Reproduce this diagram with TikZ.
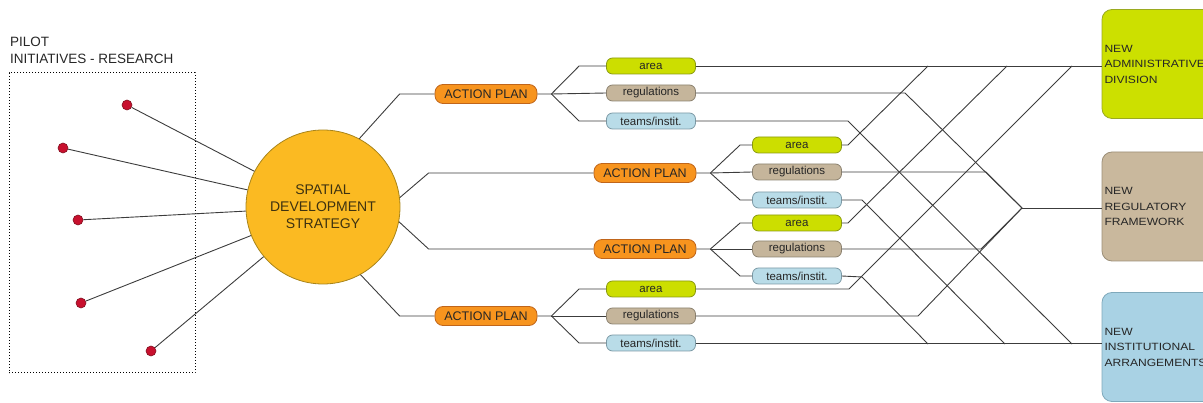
\documentclass[tikz,border=0pt]{standalone}
\usepackage{fontspec}
\setmainfont{Liberation Sans}
\newfontfamily\widefont{Liberation Sans}[FakeStretch=1.15]
\definecolor{lncol}{HTML}{3C3C3C}
\definecolor{txt}{HTML}{262626}
\definecolor{apf}{HTML}{F7941E}
\definecolor{apb}{HTML}{C0651A}
\definecolor{arf}{HTML}{CCDE00}
\definecolor{arb}{HTML}{8A9A10}
\definecolor{rgf}{HTML}{C5B59B}
\definecolor{rgb}{HTML}{8C8270}
\definecolor{tmf}{HTML}{B9DCE8}
\definecolor{tmb}{HTML}{7C9AA6}
\definecolor{admf}{HTML}{CCE000}
\definecolor{admb}{HTML}{9AAA20}
\definecolor{regf}{HTML}{C9B89D}
\definecolor{regb}{HTML}{9C8F78}
\definecolor{insf}{HTML}{A9D2E4}
\definecolor{insb}{HTML}{7FA9BB}
\definecolor{cirf}{HTML}{FBBA22}
\definecolor{cirb}{HTML}{A8841A}
\definecolor{dotf}{HTML}{C8102E}
\definecolor{dotb}{HTML}{801020}
\definecolor{ctxt}{HTML}{3E3210}
\begin{document}
\begin{tikzpicture}[x=1pt,y=-1pt,
  ln/.style={draw=lncol,line width=0.9pt},
  pdot/.style={circle,minimum size=10pt,inner sep=0pt,fill=dotf,draw=dotb,line width=0.6pt},
  apbox/.style={rectangle,rounded corners=8pt,draw=apb,fill=apf,line width=0.8pt,minimum width=102pt,minimum height=19pt,inner sep=0pt,font=\fontsize{12.5}{14}\selectfont,text=txt},
  sbox/.style={rectangle,rounded corners=6pt,line width=0.8pt,minimum width=89pt,minimum height=16pt,inner sep=0pt,font=\fontsize{11.5}{13}\selectfont,text=txt},
  sarea/.style={sbox,draw=arb,fill=arf},
  sreg/.style={sbox,draw=rgb,fill=rgf},
  steam/.style={sbox,draw=tmb,fill=tmf},
  bigbox/.style={rectangle,rounded corners=10pt,line width=0.8pt,minimum width=115pt,minimum height=109pt,inner xsep=1pt,text width=110pt,align=left,font=\widefont\fontsize{10.5}{15.5}\selectfont,text=txt},
  title/.style={anchor=base west,inner sep=0pt,font=\fontsize{13.5}{16}\selectfont,text=txt}
]
\useasboundingbox (0,0) rectangle (1203,403);
\clip (0,0) rectangle (1203,403);

% title and dotted frame
\node[title] (t1) at (10,47) {PILOT};
\node[title] (t2) at (10,64) {INITIATIVES - RESEARCH};
\node[draw=black,dotted,line width=1pt,minimum width=186pt,minimum height=300pt,inner sep=0pt] (frame) at (102,223) {};

% central circle
\node[circle,minimum size=154pt,inner sep=0pt,fill=cirf,draw=cirb,line width=0.8pt,align=center,font=\fontsize{14}{17}\selectfont,text=ctxt] (c) at (323,207) {SPATIAL\\DEVELOPMENT\\STRATEGY};

% red dots
\node[pdot] (d1) at (127,105) {};
\node[pdot] (d2) at (63,148) {};
\node[pdot] (d3) at (78,220) {};
\node[pdot] (d4) at (81,303) {};
\node[pdot] (d5) at (151,351) {};
\foreach \d in {d1,d2,d3,d4,d5} \draw[ln] (\d) -- (c);

% action plans
\node[apbox] (ap1) at (486,94) {ACTION PLAN};
\node[apbox] (ap2) at (645,173) {ACTION PLAN};
\node[apbox] (ap3) at (645,249) {ACTION PLAN};
\node[apbox] (ap4) at (486,316) {ACTION PLAN};

\draw[ln] (c.62) -- ([xshift=-35pt]ap1.west) -- (ap1.west);
\draw[ln] (c.7) -- ([xshift=-165pt]ap2.west) -- (ap2.west);
\draw[ln] (c.-11) -- ([xshift=-165pt]ap3.west) -- (ap3.west);
\draw[ln] (c.-61) -- ([xshift=-35pt]ap4.west) -- (ap4.west);

% small boxes
\node[sarea] (ar1) at (651,66) {area};
\node[sreg]  (rg1) at (651,93) {regulations};
\node[steam] (tm1) at (651,121) {teams/instit.};
\node[sarea] (ar2) at (797,145) {area};
\node[sreg]  (rg2) at (797,172) {regulations};
\node[steam] (tm2) at (797,200) {teams/instit.};
\node[sarea] (ar3) at (797,223) {area};
\node[sreg]  (rg3) at (797,249) {regulations};
\node[steam] (tm3) at (797,276) {teams/instit.};
\node[sarea] (ar4) at (651,289) {area};
\node[sreg]  (rg4) at (651,316) {regulations};
\node[steam] (tm4) at (651,343) {teams/instit.};

% forks
\coordinate (f1) at ([xshift=14pt]ap1.east);
\coordinate (f2) at ([xshift=14pt]ap2.east);
\coordinate (f3) at ([xshift=14pt]ap3.east);
\coordinate (f4) at ([xshift=14pt]ap4.east);
\draw[ln] (ap1.east) -- (f1) -- ([xshift=-27pt]ar1.west) -- (ar1.west);
\draw[ln] (f1) -- (rg1.west);
\draw[ln] (f1) -- ([xshift=-27pt]tm1.west) -- (tm1.west);
\draw[ln] (ap2.east) -- (f2) -- ([xshift=-12pt]ar2.west) -- (ar2.west);
\draw[ln] (f2) -- (rg2.west);
\draw[ln] (f2) -- ([xshift=-12pt]tm2.west) -- (tm2.west);
\draw[ln] (ap3.east) -- (f3) -- ([xshift=-12pt]ar3.west) -- (ar3.west);
\draw[ln] (f3) -- (rg3.west);
\draw[ln] (f3) -- ([xshift=-12pt]tm3.west) -- (tm3.west);
\draw[ln] (ap4.east) -- (f4) -- ([xshift=-27pt]ar4.west) -- (ar4.west);
\draw[ln] (f4) -- (rg4.west);
\draw[ln] (f4) -- ([xshift=-27pt]tm4.west) -- (tm4.west);

% right boxes
\node[bigbox,fill=admf,draw=admb] (adm) at (1159.5,64) {NEW\\ADMINISTRATIVE\\DIVISION};
\node[bigbox,fill=regf,draw=regb] (reg) at (1159.5,206.5) {NEW\\REGULATORY\\FRAMEWORK};
\node[bigbox,fill=insf,draw=insb] (ins) at (1159.5,347) {NEW\\INSTITUTIONAL\\ARRANGEMENTS};

% merge points
\coordinate (A2) at (928,66);
\coordinate (A3) at (1007,66);
\coordinate (A4) at (1072,66);
\coordinate (R) at (1022,208);
\coordinate (T3) at (928,344);
\coordinate (T2) at (1005,344);
\coordinate (T1) at (1072,344);

% area lines
\draw[ln] (ar1.east) -- (ar1.east -| adm.west);
\draw[ln] (ar2.east) -- ++(6,0) -- (A2);
\draw[ln] (ar3.east) -- ++(6,0) -- (A3);
\draw[ln] (ar4.east) -- (849,289) -- (A4);
% regulation lines
\draw[ln] (rg1.east) -- (905,93) -- (R);
\draw[ln] (rg2.east) -- (986,172) -- (R);
\draw[ln] (rg3.east) -- (981,249) -- (R);
\draw[ln] (rg4.east) -- (918,316) -- (R);
\draw[ln] (R) -- (R -| reg.west);
% teams lines
\draw[ln] (tm4.east) -- (tm4.east -| ins.west);
\draw[ln] (tm3.east) -- (862,277) -- (T3);
\draw[ln] (tm2.east) -- (862,200) -- (T2);
\draw[ln] (tm1.east) -- (848,121) -- (T1);
\end{tikzpicture}
\end{document}
